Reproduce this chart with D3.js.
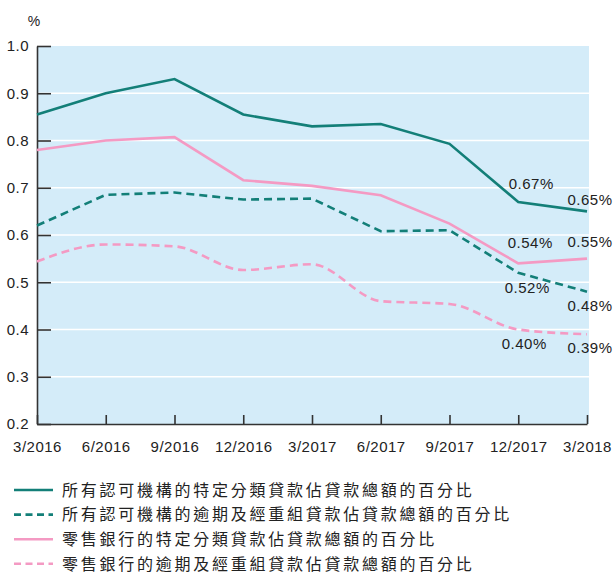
<!DOCTYPE html>
<html>
<head>
<meta charset="utf-8">
<style>
body { margin: 0; background: #fff; }
text { font-family: "Liberation Sans", Arial, sans-serif; fill: #222; }
.legend text { font-family: "Noto Sans CJK TC", "Noto Sans CJK SC", sans-serif; }
</style>
</head>
<body>
<svg id="chart"></svg>
<script src="https://cdn.jsdelivr.net/npm/d3@7"></script>
<script>
var dates = ["3/2016", "6/2016", "9/2016", "12/2016", "3/2017", "6/2017", "9/2017", "12/2017", "3/2018"];

// 所有認可機構 - 特定分類貸款
var allClassified = [0.855, 0.90, 0.93, 0.855, 0.83, 0.835, 0.793, 0.67, 0.65];
// 所有認可機構 - 逾期及經重組貸款
var allOverdue = [0.62, 0.685, 0.69, 0.675, 0.677, 0.608, 0.61, 0.52, 0.48];
// 零售銀行 - 特定分類貸款
var retailClassified = [0.78, 0.80, 0.807, 0.716, 0.704, 0.684, 0.624, 0.54, 0.55];
// 零售銀行 - 逾期及經重組貸款
var retailOverdue = [0.544, 0.58, 0.576, 0.526, 0.538, 0.46, 0.454, 0.40, 0.39];

var seriesNames = [
  "所有認可機構的特定分類貸款佔貸款總額的百分比",
  "所有認可機構的逾期及經重組貸款佔貸款總額的百分比",
  "零售銀行的特定分類貸款佔貸款總額的百分比",
  "零售銀行的逾期及經重組貸款佔貸款總額的百分比"
];

var yTicks = [0.2, 0.3, 0.4, 0.5, 0.6, 0.7, 0.8, 0.9, 1.0];

var width = 615, height = 575;
var teal = "#137f78", pink = "#f49ac3";

var series = [
  {name: seriesNames[0], values: allClassified, color: teal, dash: null, curve: d3.curveLinear},
  {name: seriesNames[1], values: allOverdue, color: teal, dash: "8,5", curve: d3.curveLinear},
  {name: seriesNames[2], values: retailClassified, color: pink, dash: null, curve: d3.curveLinear},
  {name: seriesNames[3], values: retailOverdue, color: pink, dash: "8,5", curve: d3.curveMonotoneX}
];

var svg = d3.select("#chart").attr("width", width).attr("height", height);

var x = d3.scalePoint().domain(dates).range([37, 587]);
var y = d3.scaleLinear().domain([0.2, 1.0]).range([424, 46]);

// plot background
svg.append("rect")
  .attr("x", 37).attr("y", y(1.0))
  .attr("width", 589 - 37).attr("height", y(0.2) - y(1.0))
  .attr("fill", "#d4ecf9");

// white gridlines
svg.append("g").selectAll("line")
  .data(yTicks.filter(function(d) { return d > 0.2 && d < 1.0; }))
  .enter().append("line")
  .attr("x1", 37).attr("x2", 589)
  .attr("y1", function(d) { return y(d); })
  .attr("y2", function(d) { return y(d); })
  .attr("stroke", "#fff")
  .attr("stroke-width", 1.5);

// axes
var yAxis = svg.append("g")
  .attr("transform", "translate(37,0)")
  .call(d3.axisLeft(y).tickValues(yTicks).tickFormat(d3.format(".1f"))
    .tickSizeInner(-14).tickSizeOuter(0).tickPadding(8));

var xAxis = svg.append("g")
  .attr("transform", "translate(0,424)")
  .call(d3.axisBottom(x).tickSizeInner(-9).tickSizeOuter(0).tickPadding(17));

[yAxis, xAxis].forEach(function(ax) {
  ax.select(".domain").attr("stroke", "#333").attr("stroke-width", 1.6);
  ax.selectAll(".tick line").attr("stroke", "#333").attr("stroke-width", 1.6);
  ax.selectAll(".tick text")
    .attr("fill", "#2a2a2a")
    .style("font-family", "'Liberation Sans', Arial, sans-serif")
    .style("font-size", "15px")
    .style("letter-spacing", "0.5px");
});

svg.append("text")
  .attr("x", 34).attr("y", 26)
  .attr("text-anchor", "middle")
  .style("font-size", "14px")
  .text("%");

// lines
var lines = svg.append("g");
series.forEach(function(s) {
  var line = d3.line()
    .x(function(d, i) { return x(dates[i]); })
    .y(function(d) { return y(d); })
    .curve(s.curve);
  lines.append("path")
    .datum(s.values)
    .attr("d", line)
    .attr("fill", "none")
    .attr("stroke", s.color)
    .attr("stroke-width", 2.6)
    .attr("stroke-dasharray", s.dash);
});

// end labels for last two points
var labelOffsets = [
  [[13, -18], [3, -12]],
  [[9, 15], [3, 14]],
  [[12, -21], [3, -17]],
  [[6, 14], [3, 14]]
];
series.forEach(function(s, si) {
  [7, 8].forEach(function(idx, k) {
    var v = s.values[idx];
    svg.append("text")
      .attr("x", x(dates[idx]) + labelOffsets[si][k][0])
      .attr("y", y(v) + labelOffsets[si][k][1])
      .attr("dy", "0.35em")
      .attr("text-anchor", "middle")
      .attr("fill", "#2a2a2a")
      .style("font-size", "15px")
      .style("letter-spacing", "0.5px")
      .text(d3.format(".2f")(v) + "%");
  });
});

// legend
var legend = svg.append("g").attr("class", "legend");
var item = legend.selectAll("g")
  .data(series)
  .enter().append("g")
  .attr("transform", function(d, i) { return "translate(0," + (490 + i * 24.6) + ")"; });

item.append("line")
  .attr("x1", 14).attr("x2", 53)
  .attr("stroke", function(d) { return d.color; })
  .attr("stroke-width", 2.6)
  .attr("stroke-dasharray", function(d) { return d.dash ? "7,4.5" : null; });

item.append("text")
  .attr("x", 62)
  .attr("dy", "0.36em")
  .style("font-size", "16px")
  .style("letter-spacing", "2.75px")
  .attr("fill", "#333")
  .text(function(d) { return d.name; });
</script>
</body>
</html>
